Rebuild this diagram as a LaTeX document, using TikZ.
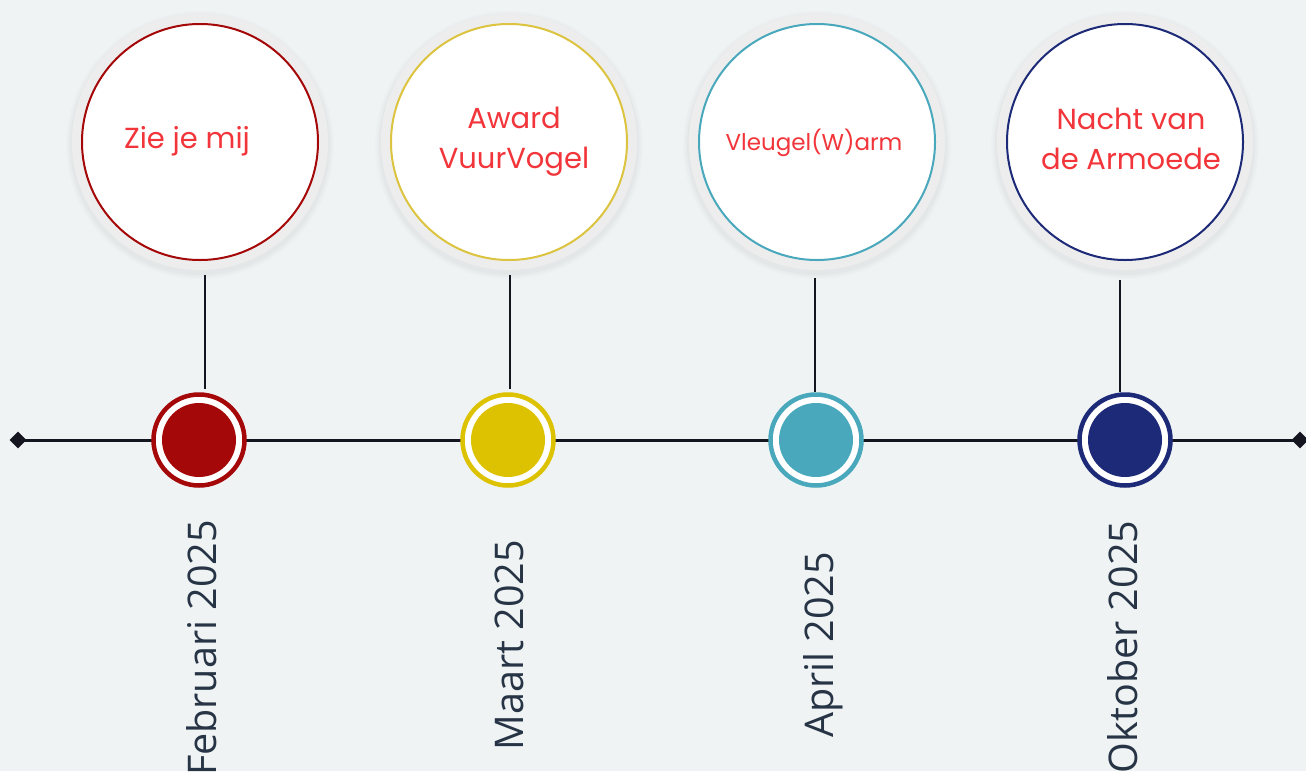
\documentclass[tikz,border=0pt]{standalone}
\usepackage{fontspec}
\setmainfont{Open Sans}
\newfontfamily\popfont{Poppins}
\usetikzlibrary{shapes.geometric}
\definecolor{bgc}{HTML}{EFF3F4}
\definecolor{cred}{HTML}{A50808}
\definecolor{cyel}{HTML}{DCC200}
\definecolor{cyelring}{HTML}{DCC441}
\definecolor{cteal}{HTML}{4AA8BC}
\definecolor{cnavy}{HTML}{1D2A78}
\definecolor{txtred}{HTML}{F2353A}
\definecolor{datec}{HTML}{263445}
\definecolor{linec}{HTML}{15151F}
\definecolor{halo}{HTML}{EDEDED}
\tikzset{
  bigbox/.style={circle, draw=#1, line width=2pt, fill=white, minimum size=236pt, inner sep=0pt},
  halobox/.style={circle, fill=halo, minimum size=256pt, inner sep=0pt},
  dotbox/.style={circle, fill=#1, minimum size=74pt, inner sep=0pt},
  ringbox/.style={circle, draw=#1, line width=4.5pt, fill=white, minimum size=91pt, inner sep=0pt},
  evtext/.style={text=txtred, font=\popfont\fontsize{29}{40}\selectfont, align=center, anchor=base},
  datetext/.style={text=datec, font=\fontsize{39.5}{44}\selectfont, rotate=90, anchor=base},
  stem/.style={draw=linec, line width=2.5pt},
  axis/.style={draw=linec, line width=3pt},
  endmark/.style={diamond, fill=linec, minimum size=17pt, inner sep=0pt}
}
\begin{document}
\begin{tikzpicture}[x=1pt,y=-1pt]
\fill[bgc] (0,0) rectangle (1306,771);
\useasboundingbox (0,0) rectangle (1306,771);
% soft shadows
\foreach \cx in {200,509,817,1125}{
  \foreach \r/\o in {134/0.012,132/0.015,130/0.02}{
    \fill[black,opacity=\o] (\cx,145) circle (\r);
  }
}
% axis
\node[endmark] (endL) at (18,440) {};
\node[endmark] (endR) at (1300,440) {};
\draw[axis] (endL.center) -- (endR.center);
% big circles
\node[halobox] (h1) at (200,142) {};
\node[halobox] (h2) at (509,142) {};
\node[halobox] (h3) at (817,142) {};
\node[halobox] (h4) at (1125,142) {};
\node[bigbox=cred] (b1) at (200,142) {};
\node[bigbox=cyelring] (b2) at (509,142) {};
\node[bigbox=cteal] (b3) at (817,142) {};
\node[bigbox=cnavy] (b4) at (1125,142) {};
\node[evtext] (t1) at (187,148) {Zie je mij};
\node[evtext] (t2) at (514,168) {Award\\VuurVogel};
\node[evtext, font=\popfont\fontsize{23}{30}\selectfont] (t3) at (814,150) {Vleugel(W)arm};
\node[evtext] (t4) at (1131,169) {Nacht van\\de Armoede};
% dots
\node[ringbox=cred] (r1) at (199,440) {};
\node[ringbox=cyel] (r2) at (508,440) {};
\node[ringbox=cteal] (r3) at (816,440) {};
\node[ringbox=cnavy] (r4) at (1125,440) {};
\node[dotbox=cred] (d1) at (199,440) {};
\node[dotbox=cyel] (d2) at (508,440) {};
\node[dotbox=cteal] (d3) at (816,440) {};
\node[dotbox=cnavy] (d4) at (1125,440) {};
% stems
\coordinate (s1a) at (205,275); \coordinate (s1b) at (205,389);
\coordinate (s2a) at (510,275); \coordinate (s2b) at (510,389);
\coordinate (s3a) at (815,278); \coordinate (s3b) at (815,392);
\coordinate (s4a) at (1120,280); \coordinate (s4b) at (1120,392);
\draw[stem] (s1a) -- (s1b);
\draw[stem] (s2a) -- (s2b);
\draw[stem] (s3a) -- (s3b);
\draw[stem] (s4a) -- (s4b);
% dates
\node[datetext] (dt1) at (216,648) {Februari 2025};
\node[datetext] (dt2) at (523,645) {Maart 2025};
\node[datetext] (dt3) at (833,645) {April 2025};
\node[datetext] (dt4) at (1137,647) {Oktober 2025};
\end{tikzpicture}
\end{document}
